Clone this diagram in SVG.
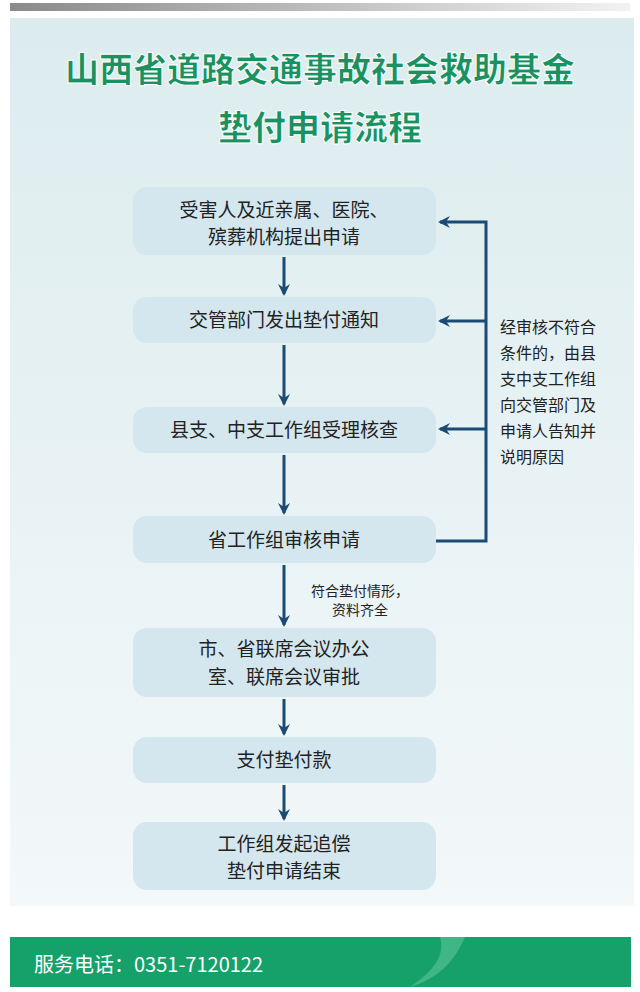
<svg xmlns="http://www.w3.org/2000/svg" width="640" height="992" viewBox="0 0 640 992">
<defs>
<linearGradient id="top" x1="0" x2="1"><stop offset="0" stop-color="#8a8a8a"/><stop offset="1" stop-color="#f2f2f2"/></linearGradient>
<linearGradient id="bg" x1="0" y1="0" x2="0" y2="1"><stop offset="0" stop-color="#dcecee"/><stop offset="1" stop-color="#f3f8fa"/></linearGradient>
<marker id="ah" viewBox="0 0 12 12" refX="10" refY="6" markerWidth="12" markerHeight="12" markerUnits="userSpaceOnUse" orient="auto"><path d="M0,0 L12,6 L0,12 L4,6 Z" fill="#1b4a73"/></marker>
<style>
.box{fill:#d4e7ee}
.t{font-family:"Noto Sans CJK SC","Noto Sans",sans-serif;font-size:19px;fill:#222;text-anchor:middle}
.n{font-family:"Noto Sans CJK SC","Noto Sans",sans-serif;font-size:16px;fill:#222}
.c{stroke:#1b4a73;stroke-width:3;fill:none}
</style>
</defs>
<rect width="640" height="992" fill="#fff"/>
<rect x="10" y="3" width="620" height="8" fill="url(#top)"/>
<rect x="10" y="18" width="624" height="888" fill="url(#bg)"/>
<text x="320" y="82" font-family="'Noto Sans CJK SC',sans-serif" font-size="34" font-weight="900" fill="#1a9160" text-anchor="middle" stroke="#fff" stroke-width="1">山西省道路交通事故社会救助基金</text>
<text x="320" y="140" font-family="'Noto Sans CJK SC',sans-serif" font-size="34" font-weight="900" fill="#1a9160" text-anchor="middle" stroke="#fff" stroke-width="1">垫付申请流程</text>
<g id="n1"><rect class="box" x="133" y="187" width="303" height="68" rx="14"/><text class="t" x="284" y="217">受害人及近亲属、医院、</text><text class="t" x="284" y="244">殡葬机构提出申请</text></g>
<g id="n2"><rect class="box" x="133" y="297" width="303" height="46" rx="14"/><text class="t" x="284" y="327">交管部门发出垫付通知</text></g>
<g id="n3"><rect class="box" x="133" y="407" width="303" height="46" rx="14"/><text class="t" x="284" y="437">县支、中支工作组受理核查</text></g>
<g id="n4"><rect class="box" x="133" y="516" width="303" height="47" rx="14"/><text class="t" x="284" y="547">省工作组审核申请</text></g>
<g id="n5"><rect class="box" x="133" y="628" width="303" height="69" rx="14"/><text class="t" x="284" y="656">市、省联席会议办公</text><text class="t" x="284" y="684">室、联席会议审批</text></g>
<g id="n6"><rect class="box" x="133" y="737" width="303" height="46" rx="14"/><text class="t" x="284" y="767">支付垫付款</text></g>
<g id="n7"><rect class="box" x="133" y="822" width="303" height="68" rx="14"/><text class="t" x="284" y="851">工作组发起追偿</text><text class="t" x="284" y="878">垫付申请结束</text></g>
<g id="connectors">
<line class="c" x1="284" y1="257" x2="284" y2="294" marker-end="url(#ah)"/>
<line class="c" x1="284" y1="345" x2="284" y2="404" marker-end="url(#ah)"/>
<line class="c" x1="284" y1="455" x2="284" y2="513" marker-end="url(#ah)"/>
<line class="c" x1="284" y1="565" x2="284" y2="625" marker-end="url(#ah)"/>
<line class="c" x1="284" y1="699" x2="284" y2="734" marker-end="url(#ah)"/>
<line class="c" x1="284" y1="785" x2="284" y2="819" marker-end="url(#ah)"/>
<polyline class="c" points="436,541 486,541 486,222 440,222" marker-end="url(#ah)"/>
<line class="c" x1="486" y1="321" x2="440" y2="321" marker-end="url(#ah)"/>
<line class="c" x1="486" y1="429" x2="440" y2="429" marker-end="url(#ah)"/>
<text x="360" y="596" font-family="'Noto Sans CJK SC',sans-serif" font-size="14" fill="#222" text-anchor="middle">符合垫付情形，</text>
<text x="360" y="615" font-family="'Noto Sans CJK SC',sans-serif" font-size="14" fill="#222" text-anchor="middle">资料齐全</text>
</g>
<g id="note">
<text class="n" x="500" y="333">经审核不符合</text>
<text class="n" x="500" y="359">条件的，由县</text>
<text class="n" x="500" y="385">支中支工作组</text>
<text class="n" x="500" y="411">向交管部门及</text>
<text class="n" x="500" y="437">申请人告知并</text>
<text class="n" x="500" y="463">说明原因</text>
</g>
<g id="footer">
<rect x="10" y="937" width="621" height="50" fill="#16a06a"/>
<path d="M440,937 L465,937 C455,960 440,978 410,987 C435,970 445,955 440,937Z" fill="#5ec39a" opacity="0.6"/>
<text x="34" y="972" font-family="'Noto Sans CJK SC',sans-serif" font-size="20" fill="#fff">服务电话：0351-7120122</text>
</g>
</svg>
